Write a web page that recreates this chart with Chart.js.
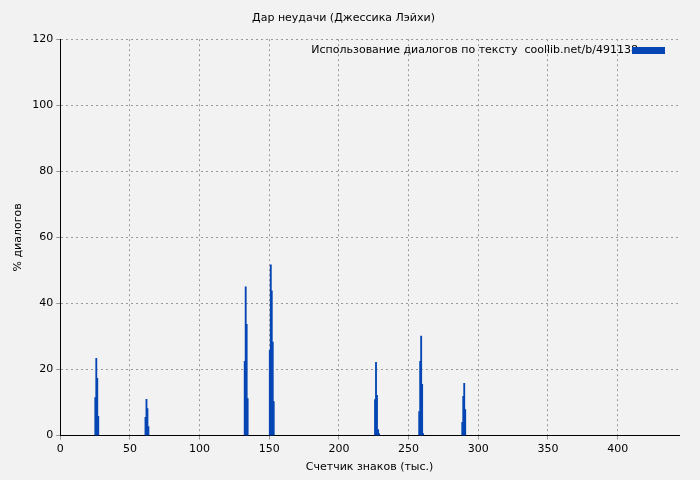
<!DOCTYPE html>
<html><head><meta charset="utf-8">
<script src="https://cdn.jsdelivr.net/npm/chart.js@4"></script>
<style>html,body{margin:0;background:#f2f2f2}#w{width:700px;height:480px}</style>
</head><body><div id="w"><canvas id="c"></canvas></div>
<script>
const positions = [25.2,25.9,26.6,27.3, 61.2,61.9,62.6,63.3, 132.4,133.1,133.8,134.5, 150.4,151.1,151.8,152.5,153.2, 225.9,226.6,227.3,228.1,228.8, 257.6,258.3,259.0,259.7,260.4, 288.5,289.2,289.9,290.6];
const percents = [11.5,23.4,17.3,5.8, 5.5,11,8.2,2.7, 22.5,45,33.7,11.2, 25.8,51.7,43.8,28.3,10.3, 10.9,22.2,12.2,1.8,0.6, 7.3,22.5,30.1,15.5,0.6, 4,11.9,15.8,7.9];
const xTicks = [0,50,100,150,200,250,300,350,400];
const title = "Дар неудачи (Джессика Лэйхи)";
const legendText = "Использование диалогов по тексту  coollib.net/b/491138";
const F = "DejaVu Sans";
const legendPlugin = {id:'lg', afterDraw(ch){const c=ch.ctx,a=ch.chartArea;c.save();c.font="11px "+F;c.fillStyle="#000";c.textAlign="right";c.textBaseline="middle";c.fillText(legendText,a.right-41,50);c.fillStyle="#0646b4";c.fillRect(a.right-47,47,33,7);c.restore();}};
new Chart(document.getElementById('c'),{
 type:'bar',
 data:{datasets:[{data:positions.map((x,i)=>({x:x,y:percents[i]})),backgroundColor:'#0646b4',barThickness:1.2}]},
 options:{responsive:true,maintainAspectRatio:false,animation:false,
  layout:{padding:{top:6,right:21,left:8,bottom:2}},
  plugins:{legend:{display:false},tooltip:{enabled:false},
   title:{display:true,text:title,color:'#000',font:{family:F,size:11,weight:'normal'},padding:{top:6,bottom:14}}},
  scales:{
   x:{type:'linear',min:0,max:444,offset:false,afterBuildTicks:s=>{s.ticks=xTicks.map(v=>({value:v}))},
      grid:{color:'#999',offset:false,tickLength:4},border:{color:'#000',dash:[2,3]},
      ticks:{color:'#000',font:{family:F,size:11},maxRotation:0},
      title:{display:true,text:'Счетчик знаков (тыс.)',color:'#000',font:{family:F,size:11},padding:{top:2}}},
   y:{min:0,max:120,ticks:{stepSize:20,color:'#000',font:{family:F,size:11}},
      grid:{color:'#999',tickLength:4},border:{color:'#000',dash:[2,3]},
      title:{display:true,text:'% диалогов',color:'#000',font:{family:F,size:11}}}
  }},
 plugins:[legendPlugin]
});
</script></body></html>
